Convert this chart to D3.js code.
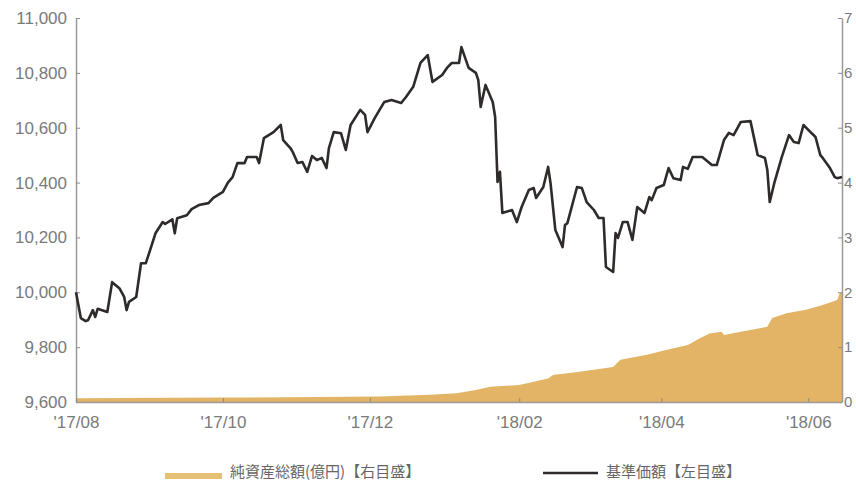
<!DOCTYPE html>
<html>
<head>
<meta charset="utf-8">
<script src="https://cdn.jsdelivr.net/npm/d3@7/dist/d3.min.js"></script>
<style>
  body { margin: 0; background: #fff; overflow: hidden; }
  .tick text { fill: #7a7a7a; }
</style>
</head>
<body>
<div id="chart"></div>
<script>
// 基準価額 (left scale)
const navDates = [
  "2017-08-01","2017-08-03","2017-08-05","2017-08-06","2017-08-08","2017-08-09","2017-08-10","2017-08-14",
  "2017-08-16","2017-08-19","2017-08-21","2017-08-22","2017-08-23","2017-08-26","2017-08-28","2017-08-30",
  "2017-09-03","2017-09-06","2017-09-07","2017-09-10","2017-09-11","2017-09-12","2017-09-16","2017-09-18",
  "2017-09-21","2017-09-25","2017-09-27","2017-10-01","2017-10-03","2017-10-05","2017-10-07","2017-10-10",
  "2017-10-11","2017-10-15","2017-10-16","2017-10-18","2017-10-22","2017-10-25","2017-10-26","2017-10-29",
  "2017-10-30","2017-11-01","2017-11-03","2017-11-05","2017-11-07","2017-11-09","2017-11-11","2017-11-13",
  "2017-11-14","2017-11-16","2017-11-19","2017-11-21","2017-11-23","2017-11-27","2017-11-29","2017-11-30",
  "2017-12-03","2017-12-07","2017-12-10","2017-12-14","2017-12-16","2017-12-19","2017-12-22","2017-12-25",
  "2017-12-27","2017-12-31","2018-01-02","2018-01-04","2018-01-07","2018-01-08","2018-01-11","2018-01-14",
  "2018-01-15","2018-01-16","2018-01-18","2018-01-21","2018-01-22","2018-01-23","2018-01-24","2018-01-25",
  "2018-01-29","2018-01-31","2018-02-02","2018-02-05","2018-02-07","2018-02-08","2018-02-11","2018-02-13",
  "2018-02-14","2018-02-16","2018-02-19","2018-02-20","2018-02-21","2018-02-25","2018-02-27","2018-03-01",
  "2018-03-04","2018-03-06","2018-03-08","2018-03-09","2018-03-12","2018-03-13","2018-03-14","2018-03-16",
  "2018-03-18","2018-03-20","2018-03-22","2018-03-25","2018-03-27","2018-03-28","2018-03-30","2018-04-02",
  "2018-04-04","2018-04-06","2018-04-09","2018-04-10","2018-04-12","2018-04-14","2018-04-18","2018-04-22",
  "2018-04-24","2018-04-27","2018-04-29","2018-05-01","2018-05-04","2018-05-08","2018-05-11","2018-05-14",
  "2018-05-15","2018-05-16","2018-05-18","2018-05-21","2018-05-24","2018-05-26","2018-05-28","2018-05-30",
  "2018-06-01","2018-06-04","2018-06-06","2018-06-07","2018-06-10","2018-06-12","2018-06-13","2018-06-15"
];
const navValues = [
  10000, 9906, 9895, 9898, 9935, 9910, 9940, 9928,
  10037, 10015, 9983, 9935, 9965, 9983, 10106, 10106,
  10215, 10256, 10249, 10266, 10215, 10270, 10281, 10303,
  10318, 10325, 10344, 10366, 10399, 10420, 10471, 10471,
  10493, 10493, 10471, 10562, 10584, 10610, 10555, 10526,
  10511, 10471, 10475, 10439, 10497, 10482, 10490, 10453,
  10526, 10584, 10580, 10519, 10610, 10665, 10647, 10584,
  10635, 10694, 10701, 10690, 10712, 10749, 10836, 10865,
  10767, 10792, 10818, 10836, 10836, 10894, 10818, 10800,
  10774, 10676, 10756, 10694, 10640, 10402, 10439, 10289,
  10300, 10256, 10311, 10373, 10380, 10344, 10384, 10457,
  10398, 10227, 10165, 10245, 10252, 10384, 10380, 10329,
  10300, 10271, 10271, 10092, 10074, 10216, 10198, 10256,
  10256, 10191, 10311, 10289, 10347, 10336, 10380, 10391,
  10453, 10416, 10409, 10457, 10450, 10493, 10493, 10464,
  10464, 10555, 10581, 10573, 10621, 10624, 10500, 10490,
  10446, 10329, 10402, 10493, 10573, 10548, 10544, 10610,
  10592, 10566, 10500, 10490, 10453, 10420, 10416, 10420
];

// 純資産総額 (right scale, in the units shown on that axis)
const assetDates = [
  "2017-08-01","2017-10-01","2017-12-05","2017-12-26","2018-01-06","2018-01-14","2018-01-20","2018-02-01",
  "2018-02-13","2018-02-15","2018-02-26","2018-03-12","2018-03-15","2018-03-26","2018-04-06","2018-04-12",
  "2018-04-17","2018-04-21","2018-04-26","2018-04-27","2018-05-04","2018-05-15","2018-05-17","2018-05-23",
  "2018-05-31","2018-06-07","2018-06-13","2018-06-14","2018-06-15"
];
const assetValues = [
  0.07, 0.08, 0.10, 0.13, 0.16, 0.22, 0.28, 0.31,
  0.43, 0.49, 0.55, 0.64, 0.77, 0.86, 0.98, 1.04,
  1.16, 1.25, 1.28, 1.22, 1.28, 1.37, 1.53, 1.62,
  1.68, 1.77, 1.86, 1.98, 2.00
];

const leftTicks = [9600, 9800, 10000, 10200, 10400, 10600, 10800, 11000];
const rightTicks = [0, 1, 2, 3, 4, 5, 6, 7];
const xTickDates = ["2017-08-01", "2017-10-01", "2017-12-01", "2018-02-01", "2018-04-01", "2018-06-01"];
const xTickLabels = ["'17/08", "'17/10", "'17/12", "'18/02", "'18/04", "'18/06"];
const legendLabels = ["純資産総額(億円)【右目盛】", "基準価額【左目盛】"];

const W = 856, H = 484;
const m = { top: 18, right: 14, bottom: 82, left: 76 };
const parse = d3.timeParse("%Y-%m-%d");

const nav = navDates.map((d, i) => ({ date: parse(d), value: navValues[i] }));
const assets = assetDates.map((d, i) => ({ date: parse(d), value: assetValues[i] }));

const svg = d3.select("#chart").append("svg")
  .attr("width", W)
  .attr("height", H)
  .style("font-family", "'Noto Sans', sans-serif");

const x = d3.scaleTime()
  .domain([parse("2017-08-01"), parse("2018-06-15")])
  .range([m.left, W - m.right]);
const yL = d3.scaleLinear().domain([9600, 11000]).range([H - m.bottom, m.top]);
const yR = d3.scaleLinear().domain([0, 7]).range([H - m.bottom, m.top]);

// net assets area
svg.append("path")
  .datum(assets)
  .attr("fill", "#e3b465")
  .attr("d", d3.area()
    .x(d => x(d.date))
    .y0(yR(0))
    .y1(d => yR(d.value)));

// axes
const axisStyle = size => g => {
  g.selectAll(".domain").attr("stroke", "#9a9a9a").attr("stroke-width", 1.5);
  g.selectAll(".tick line").attr("stroke", "#8a8a8a");
  g.selectAll("text").attr("font-size", size);
};

svg.append("g")
  .attr("transform", `translate(${m.left},0)`)
  .call(d3.axisLeft(yL).tickValues(leftTicks).tickFormat(d3.format(","))
    .tickSizeInner(-4).tickSizeOuter(0).tickPadding(9))
  .call(axisStyle(17));

svg.append("g")
  .attr("transform", `translate(${W - m.right},0)`)
  .call(d3.axisRight(yR).tickValues(rightTicks).tickFormat(d3.format("d"))
    .tickSizeInner(-4).tickSizeOuter(0).tickPadding(2))
  .call(axisStyle(15));

svg.append("g")
  .attr("transform", `translate(0,${H - m.bottom})`)
  .call(d3.axisBottom(x).tickValues(xTickDates.map(parse))
    .tickFormat((d, i) => xTickLabels[i])
    .tickSizeInner(-4).tickSizeOuter(0).tickPadding(14))
  .call(axisStyle(17));

// NAV line
svg.append("path")
  .datum(nav)
  .attr("fill", "none")
  .attr("stroke", "#2e2b2a")
  .attr("stroke-width", 2.6)
  .attr("stroke-linejoin", "round")
  .attr("d", d3.line().x(d => x(d.date)).y(d => yL(d.value)));

// legend
const legend = svg.append("g")
  .style("font-family", "'Noto Sans CJK JP', sans-serif")
  .attr("font-size", 15)
  .attr("fill", "#666");

const items = [
  { x: 165, len: 57, label: legendLabels[0], color: "#e6bf78", width: 6, dy: 4 },
  { x: 543, len: 55, label: legendLabels[1], color: "#2e2b2a", width: 2.5, dy: 1 }
];
const ly = 472;
items.forEach(it => {
  legend.append("line")
    .attr("x1", it.x).attr("x2", it.x + it.len)
    .attr("y1", ly + it.dy).attr("y2", ly + it.dy)
    .attr("stroke", it.color)
    .attr("stroke-width", it.width);
  legend.append("text")
    .attr("x", it.x + it.len + 8)
    .attr("y", ly)
    .attr("dy", "0.35em")
    .text(it.label);
});
</script>
</body>
</html>
